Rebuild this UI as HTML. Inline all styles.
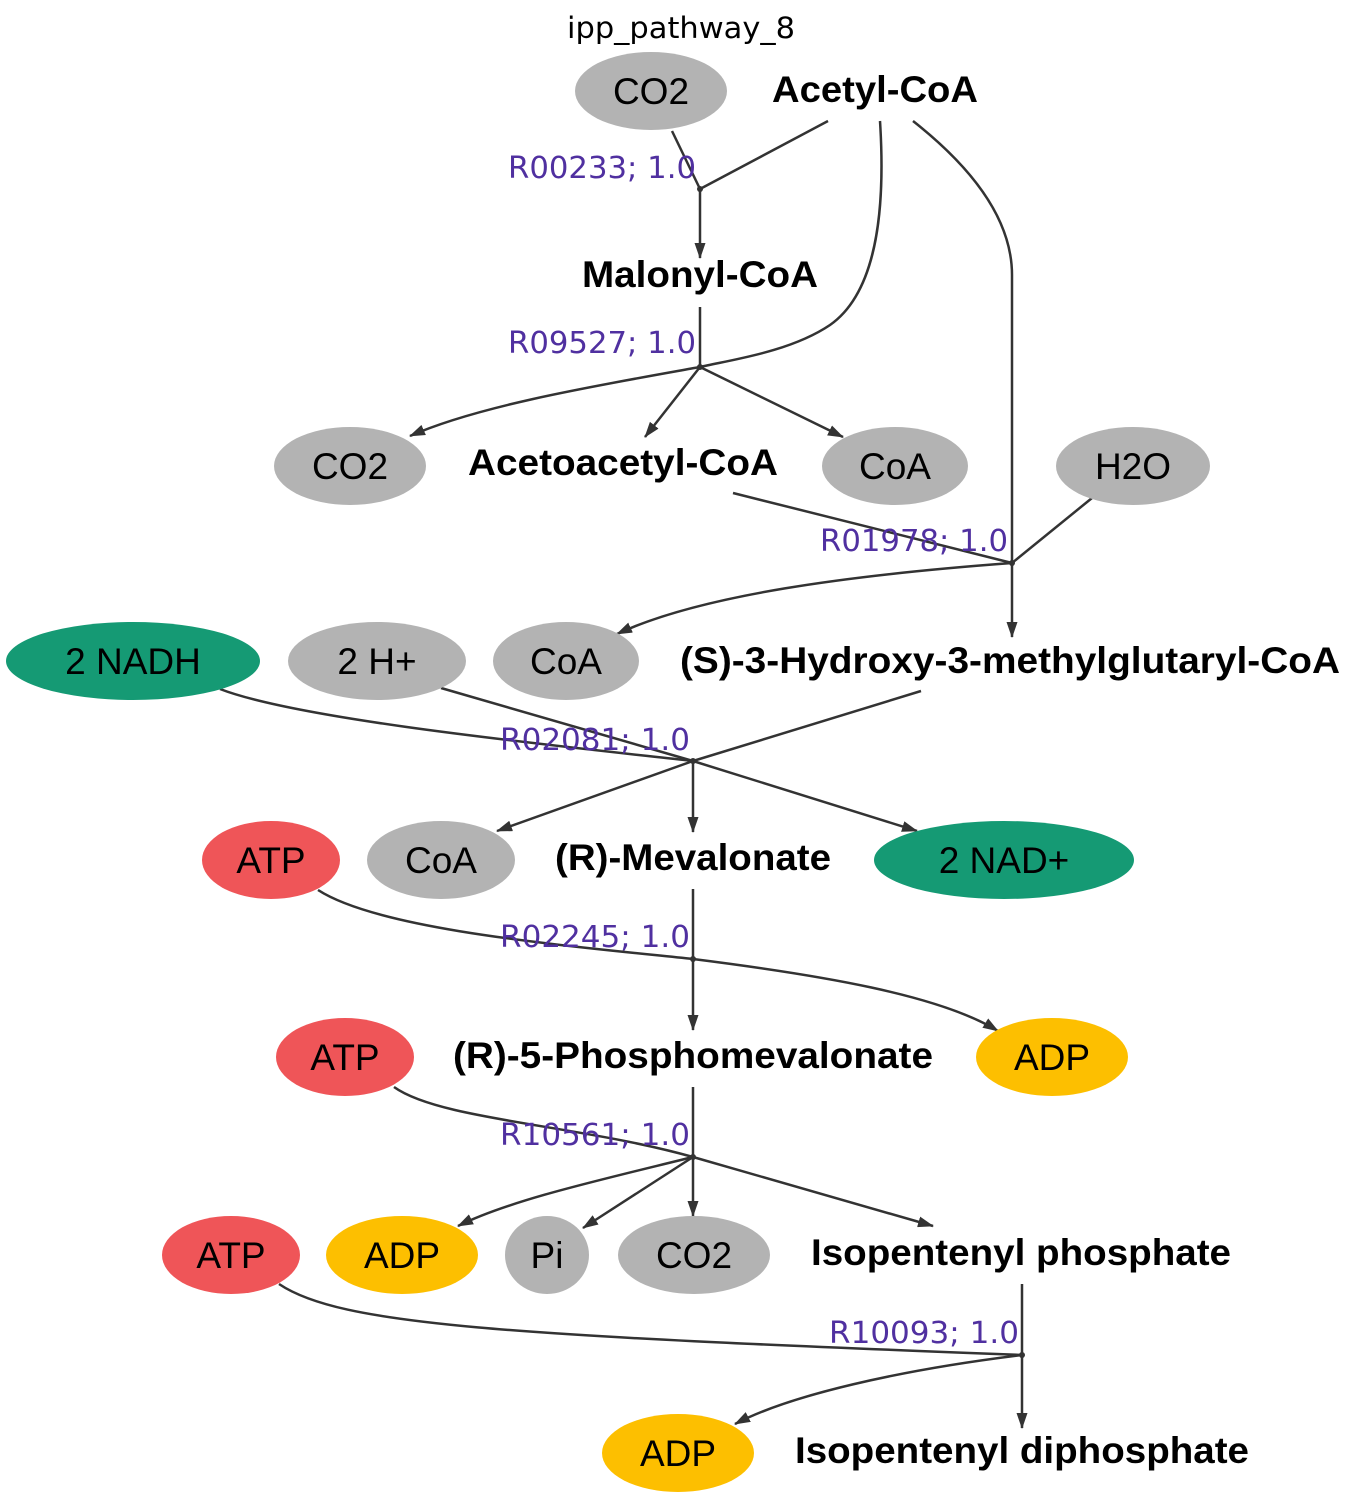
<!DOCTYPE html>
<html><head><meta charset="utf-8"><style>
html,body{margin:0;padding:0;background:#fff;}
svg{display:block;}
.n{font-family:"Liberation Sans",Arial,sans-serif;font-size:37px;fill:#000;text-anchor:middle;}
.b{font-family:"Liberation Sans",Arial,sans-serif;font-size:37px;font-weight:bold;fill:#000;text-anchor:middle;}
.r{font-family:"DejaVu Sans",sans-serif;font-size:30px;fill:#5030a0;text-anchor:end;}
.e{fill:none;stroke:#333;stroke-width:2.5;}
</style></head><body>
<svg width="1362" height="1500" viewBox="0 0 1362 1500">
<defs><marker id="ah" markerWidth="16" markerHeight="11" refX="15" refY="5.5" orient="auto" markerUnits="userSpaceOnUse" viewBox="0 0 16 11"><path d="M0,0 L16,5.5 L0,11 z" fill="#333"/></marker>
</defs>
<text x="681" y="38" style="font-family:'DejaVu Sans',sans-serif;font-size:29px;text-anchor:middle" textLength="228" lengthAdjust="spacingAndGlyphs">ipp_pathway_8</text>

<g>
<path class="e" d="M672,131 L700,189"/>
<path class="e" d="M828,121 L700,189"/>
<path class="e" marker-end="url(#ah)" d="M700,189 L700,258"/>
<path class="e" d="M700,307 L700,367"/>
<path class="e" d="M880,121 C885,200 880,290 830,325 C790,352 730,360 700,367"/>
<path class="e" marker-end="url(#ah)" d="M700,367 C600,385 480,405 410,436"/>
<path class="e" marker-end="url(#ah)" d="M700,367 L645,437"/>
<path class="e" marker-end="url(#ah)" d="M700,367 L843,437"/>
<path class="e" d="M733,493 L1012,563"/>
<path class="e" d="M913,121 C965,162 1012,215 1012,275 L1012,563"/>
<path class="e" d="M1092,498 L1012,563"/>
<path class="e" marker-end="url(#ah)" d="M1012,563 L1012,637"/>
<path class="e" marker-end="url(#ah)" d="M1012,563 C850,575 700,595 617,634"/>
<path class="e" d="M921,691 L693,761"/>
<path class="e" d="M220,689 C300,720 550,745 693,761"/>
<path class="e" d="M441,688 L693,761"/>
<path class="e" marker-end="url(#ah)" d="M693,761 L497,831"/>
<path class="e" marker-end="url(#ah)" d="M693,761 L693,832"/>
<path class="e" marker-end="url(#ah)" d="M693,761 L917,831"/>
<path class="e" d="M693,889 L693,959"/>
<path class="e" d="M318,890 C380,930 560,945 693,959"/>
<path class="e" marker-end="url(#ah)" d="M693,959 C820,975 940,995 998,1031"/>
<path class="e" marker-end="url(#ah)" d="M693,959 L693,1030"/>
<path class="e" d="M693,1087 L693,1157"/>
<path class="e" d="M394,1087 C440,1120 580,1125 693,1157"/>
<path class="e" marker-end="url(#ah)" d="M693,1157 C600,1180 510,1200 458,1226"/>
<path class="e" marker-end="url(#ah)" d="M693,1157 L583,1228"/>
<path class="e" marker-end="url(#ah)" d="M693,1157 L693,1216"/>
<path class="e" marker-end="url(#ah)" d="M693,1157 L933,1226"/>
<path class="e" d="M1022,1284 L1022,1355"/>
<path class="e" d="M279,1284 C340,1325 500,1335 1022,1355"/>
<path class="e" marker-end="url(#ah)" d="M1022,1355 C900,1370 790,1395 735,1424"/>
<path class="e" marker-end="url(#ah)" d="M1022,1355 L1022,1428"/>
</g>

<g fill="#333">
<circle cx="700" cy="189" r="3"/><circle cx="700" cy="367" r="3"/><circle cx="1012" cy="563" r="3"/>
<circle cx="693" cy="761" r="3"/><circle cx="693" cy="959" r="3"/><circle cx="693" cy="1157" r="3"/><circle cx="1022" cy="1355" r="3"/>
</g>

<g>
<text class="r" x="696" y="178" textLength="188" lengthAdjust="spacingAndGlyphs">R00233; 1.0</text>
<text class="r" x="696" y="353" textLength="188" lengthAdjust="spacingAndGlyphs">R09527; 1.0</text>
<text class="r" x="1008" y="551" textLength="188" lengthAdjust="spacingAndGlyphs">R01978; 1.0</text>
<text class="r" x="690" y="750" textLength="190" lengthAdjust="spacingAndGlyphs">R02081; 1.0</text>
<text class="r" x="690" y="947" textLength="190" lengthAdjust="spacingAndGlyphs">R02245; 1.0</text>
<text class="r" x="690" y="1145" textLength="190" lengthAdjust="spacingAndGlyphs">R10561; 1.0</text>
<text class="r" x="1019" y="1343" textLength="190" lengthAdjust="spacingAndGlyphs">R10093; 1.0</text>
</g>

<g>
<g><ellipse cx="651" cy="91" rx="76" ry="39" fill="#b3b3b3"/><text class="n" x="651" y="104">CO2</text></g>
<text class="b" x="875" y="102" textLength="206" lengthAdjust="spacingAndGlyphs">Acetyl-CoA</text>
<text class="b" x="700" y="287" textLength="236" lengthAdjust="spacingAndGlyphs">Malonyl-CoA</text>

<g><ellipse cx="350" cy="466" rx="76" ry="39" fill="#b3b3b3"/><text class="n" x="350" y="479">CO2</text></g>
<text class="b" x="623" y="475" textLength="310" lengthAdjust="spacingAndGlyphs">Acetoacetyl-CoA</text>
<g><ellipse cx="895" cy="466" rx="73" ry="39" fill="#b3b3b3"/><text class="n" x="895" y="479">CoA</text></g>
<g><ellipse cx="1133" cy="466" rx="77" ry="39" fill="#b3b3b3"/><text class="n" x="1133" y="479">H2O</text></g>

<g><ellipse cx="133" cy="661" rx="127" ry="39" fill="#159a74"/><text class="n" x="133" y="674">2 NADH</text></g>
<g><ellipse cx="377" cy="661" rx="89" ry="39" fill="#b3b3b3"/><text class="n" x="377" y="674">2 H+</text></g>
<g><ellipse cx="566" cy="661" rx="73" ry="39" fill="#b3b3b3"/><text class="n" x="566" y="674">CoA</text></g>
<text class="b" x="1010" y="673" textLength="660" lengthAdjust="spacingAndGlyphs">(S)-3-Hydroxy-3-methylglutaryl-CoA</text>

<g><ellipse cx="271" cy="860" rx="69" ry="39" fill="#ef5558"/><text class="n" x="271" y="873">ATP</text></g>
<g><ellipse cx="441" cy="860" rx="74" ry="39" fill="#b3b3b3"/><text class="n" x="441" y="873">CoA</text></g>
<text class="b" x="693" y="870" textLength="276" lengthAdjust="spacingAndGlyphs">(R)-Mevalonate</text>
<g><ellipse cx="1004" cy="860" rx="130" ry="39" fill="#159a74"/><text class="n" x="1004" y="873">2 NAD+</text></g>

<g><ellipse cx="345" cy="1057" rx="69" ry="39" fill="#ef5558"/><text class="n" x="345" y="1070">ATP</text></g>
<text class="b" x="693" y="1068" textLength="480" lengthAdjust="spacingAndGlyphs">(R)-5-Phosphomevalonate</text>
<g><ellipse cx="1052" cy="1057" rx="76" ry="39" fill="#fdbf00"/><text class="n" x="1052" y="1070">ADP</text></g>

<g><ellipse cx="231" cy="1255" rx="69" ry="39" fill="#ef5558"/><text class="n" x="231" y="1268">ATP</text></g>
<g><ellipse cx="402" cy="1255" rx="76" ry="39" fill="#fdbf00"/><text class="n" x="402" y="1268">ADP</text></g>
<g><ellipse cx="547" cy="1255" rx="42" ry="39" fill="#b3b3b3"/><text class="n" x="547" y="1268">Pi</text></g>
<g><ellipse cx="694" cy="1255" rx="76" ry="39" fill="#b3b3b3"/><text class="n" x="694" y="1268">CO2</text></g>
<text class="b" x="1021" y="1265" textLength="420" lengthAdjust="spacingAndGlyphs">Isopentenyl phosphate</text>

<g><ellipse cx="678" cy="1453" rx="76" ry="39" fill="#fdbf00"/><text class="n" x="678" y="1466">ADP</text></g>
<text class="b" x="1022" y="1463" textLength="454" lengthAdjust="spacingAndGlyphs">Isopentenyl diphosphate</text>
</g>
</svg>
</body></html>
